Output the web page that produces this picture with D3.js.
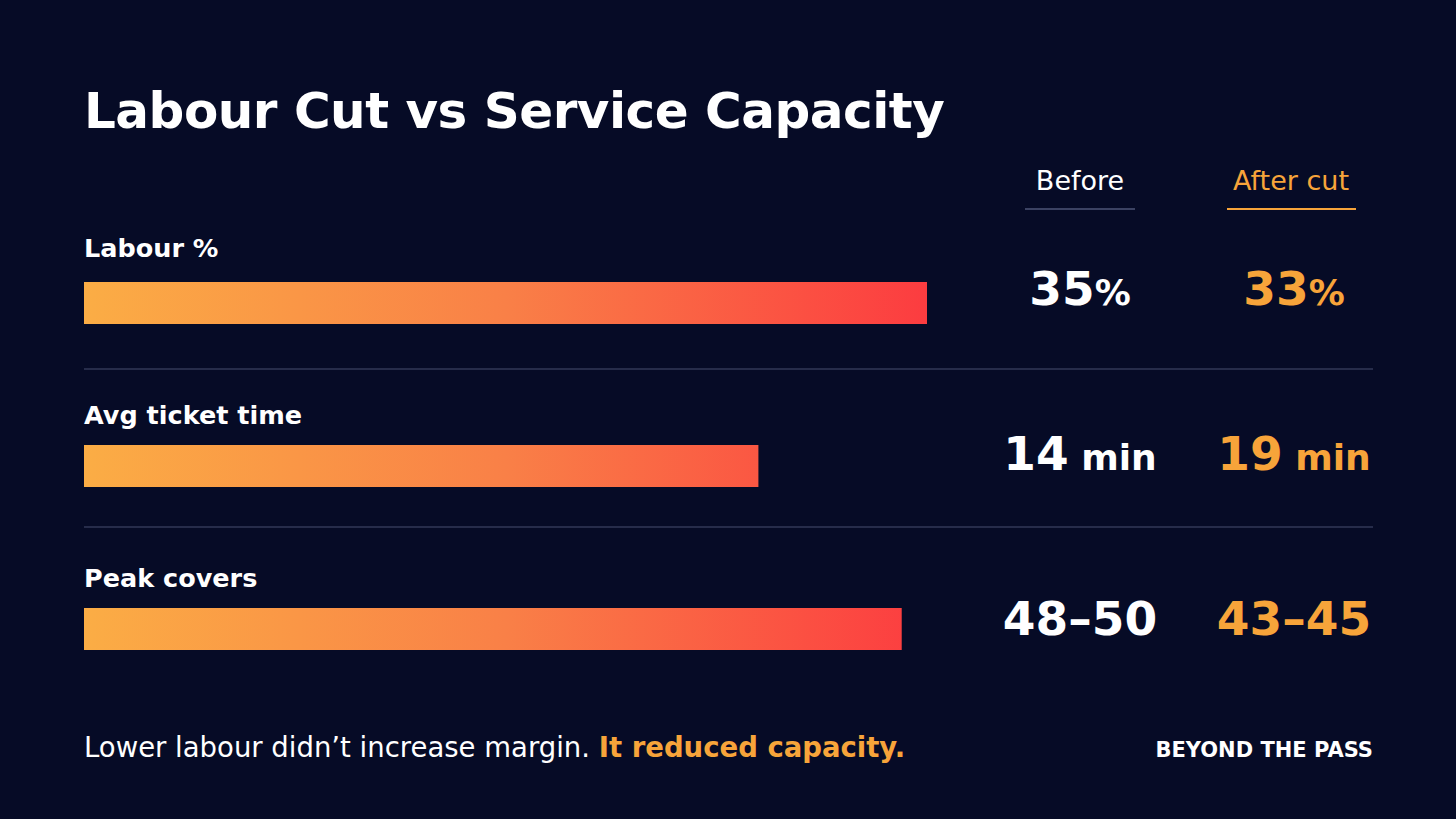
<!DOCTYPE html>
<html>
<head>
<meta charset="utf-8">
<script src="https://cdn.jsdelivr.net/npm/d3@7"></script>
<style>
  html, body { margin: 0; padding: 0; background: #060b26; }
  svg { display: block; font-family: "DejaVu Sans", sans-serif; }
</style>
</head>
<body>
<div id="chart"></div>
<script>
var metrics = ["Labour %", "Avg ticket time", "Peak covers"];
var barValues = [100, 80, 97];
var beforeNums = ["35", "14", "48–50"];
var afterNums = ["33", "19", "43–45"];
var units = ["%", " min", ""];
var columns = ["Before", "After cut"];

var W = 1456, H = 819;
var orange = "#f7a43a";

var svg = d3.select("#chart").append("svg")
    .attr("width", W)
    .attr("height", H);

svg.append("rect").attr("width", W).attr("height", H).attr("fill", "#060b26");

// gradient for bars
var grad = svg.append("defs").append("linearGradient")
    .attr("id", "barGrad")
    .attr("gradientUnits", "userSpaceOnUse")
    .attr("x1", 84).attr("x2", 927).attr("y1", 0).attr("y2", 0);
grad.append("stop").attr("offset", "0%").attr("stop-color", "#fbad45");
grad.append("stop").attr("offset", "50%").attr("stop-color", "#f98047");
grad.append("stop").attr("offset", "100%").attr("stop-color", "#fc3c40");

var x = d3.scaleLinear().domain([0, 100]).range([84, 927]);
var y = d3.scalePoint().domain(metrics).range([282, 608]);
var col = d3.scalePoint().domain(columns).range([1080, 1294]);
var barH = 42;

// title
svg.append("text").text("Labour Cut vs Service Capacity")
    .attr("x", 84).attr("y", 128)
    .attr("fill", "#ffffff").attr("font-size", 50).attr("font-weight", "bold")
    .attr("letter-spacing", -0.5);

// column headers
svg.selectAll(".colhead").data(columns).enter().append("text")
    .attr("class", "colhead")
    .text(function(d) { return d; })
    .attr("x", function(d, i) { return col(d) - i * 3; })
    .attr("y", 190)
    .attr("text-anchor", "middle")
    .attr("font-size", 27)
    .attr("fill", function(d, i) { return i == 0 ? "#ffffff" : orange; });

svg.selectAll(".colline").data(columns).enter().append("line")
    .attr("x1", function(d, i) { return i == 0 ? col(d) - 55 : col(d) - 67; })
    .attr("x2", function(d, i) { return i == 0 ? col(d) + 55 : col(d) + 62; })
    .attr("y1", 209).attr("y2", 209)
    .attr("stroke", function(d, i) { return i == 0 ? "#3b4262" : orange; })
    .attr("stroke-width", 2);

// rows
var rows = svg.selectAll(".row").data(metrics).enter().append("g")
    .attr("class", "row");

rows.append("text")
    .text(function(d) { return d; })
    .attr("x", 84)
    .attr("y", function(d, i) { return y(d) - (i == 0 ? 25 : 21); })
    .attr("fill", "#ffffff").attr("font-size", 25.5).attr("font-weight", "bold");

rows.append("rect")
    .attr("x", x(0))
    .attr("y", function(d) { return y(d); })
    .attr("width", function(d, i) { return x(barValues[i]) - x(0); })
    .attr("height", barH)
    .attr("fill", "url(#barGrad)");

// separators
rows.filter(function(d, i) { return i < metrics.length - 1; })
    .append("line")
    .attr("x1", 84).attr("x2", 1373)
    .attr("y1", function(d, i) { return y(d) + 87 - i * 5; })
    .attr("y2", function(d, i) { return y(d) + 87 - i * 5; })
    .attr("stroke", "#262c4a").attr("stroke-width", 2);

// values
function addValue(nums, colName, color) {
    var t = rows.append("text")
        .attr("x", col(colName))
        .attr("y", function(d) { return y(d) + 23 + metrics.indexOf(d) * 2; })
        .attr("text-anchor", "middle")
        .attr("fill", color)
        .attr("font-weight", "bold");
    t.append("tspan").attr("font-size", 47)
        .text(function(d, i) { return nums[i]; });
    t.append("tspan").attr("font-size", 36)
        .text(function(d, i) { return units[i]; });
}
addValue(beforeNums, "Before", "#ffffff");
addValue(afterNums, "After cut", orange);

// footer
var foot = svg.append("text").attr("x", 84).attr("y", 757).attr("font-size", 27.5);
foot.append("tspan").attr("fill", "#ffffff").text("Lower labour didn’t increase margin. ");
foot.append("tspan").attr("fill", orange).attr("font-weight", "bold").text("It reduced capacity.");

svg.append("text").text("BEYOND THE PASS")
    .attr("x", 1373).attr("y", 757)
    .attr("text-anchor", "end")
    .attr("fill", "#ffffff").attr("font-size", 21).attr("font-weight", "bold");
</script>
</body>
</html>
